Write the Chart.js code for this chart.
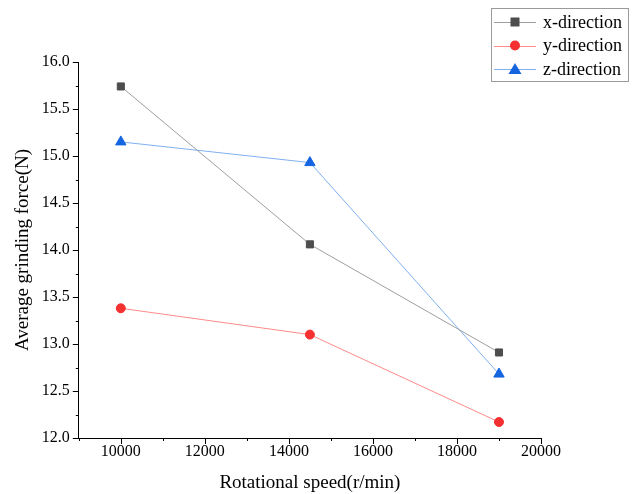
<!DOCTYPE html>
<html>
<head>
<meta charset="utf-8">
<script src="https://cdn.jsdelivr.net/npm/chart.js@4"></script>
<style>
  body { margin: 0; background: #fff; }
  #wrap { width: 638px; height: 494px; }
</style>
</head>
<body>
<div id="wrap"><canvas id="force"></canvas></div>
<script>
const speeds = [10000, 14500, 19000];
const xForce = [15.74, 14.06, 12.91];
const yForce = [13.38, 13.10, 12.17];
const zForce = [15.15, 14.93, 12.68];
const seriesNames = ["x-direction", "y-direction", "z-direction"];
const xTicks = [10000, 12000, 14000, 16000, 18000, 20000];
const yTicks = [12.0, 12.5, 13.0, 13.5, 14.0, 14.5, 15.0, 15.5, 16.0];

const FONT = "'Liberation Serif', 'Times New Roman', serif";

const toPoints = (vals) => speeds.map((s, i) => ({ x: s, y: vals[i] }));

// tick marks: long on labelled values, short in between
const tickMarks = {
  id: "tickMarks",
  afterDraw(chart) {
    const ctx = chart.ctx;
    const xs = chart.scales.x, ys = chart.scales.y;
    ctx.save();
    ctx.strokeStyle = "#000";
    ctx.lineWidth = 1;
    for (let v = 9000; v <= 20000; v += 1000) {
      const px = Math.round(xs.getPixelForValue(v)) + 0.5;
      const len = v % 2000 === 0 ? 6 : 3;
      ctx.beginPath();
      ctx.moveTo(px, ys.bottom);
      ctx.lineTo(px, ys.bottom + len);
      ctx.stroke();
    }
    for (let v = 12; v <= 16.001; v += 0.25) {
      const py = Math.round(ys.getPixelForValue(v)) + 0.5;
      const len = Math.abs(v * 2 - Math.round(v * 2)) < 0.01 ? 6 : 3;
      ctx.beginPath();
      ctx.moveTo(xs.left, py);
      ctx.lineTo(xs.left - len, py);
      ctx.stroke();
    }
    ctx.restore();
  },
};

// boxed legend in the top-right corner
const boxLegend = {
  id: "boxLegend",
  afterDraw(chart) {
    const ctx = chart.ctx;
    const ds = chart.data.datasets;
    const x0 = 491, y0 = 8, w = 137, h = 73;
    ctx.save();
    ctx.fillStyle = "#fff";
    ctx.fillRect(x0, y0, w, h);
    ctx.strokeStyle = "#9a9a9a";
    ctx.lineWidth = 1;
    ctx.strokeRect(x0 + 0.5, y0 + 0.5, w, h);
    ctx.font = "18px " + FONT;
    ctx.textBaseline = "middle";
    ds.forEach((d, i) => {
      const cy = y0 + 14 + i * 23.5;
      ctx.strokeStyle = d.borderColor;
      ctx.beginPath();
      ctx.moveTo(x0 + 3, Math.round(cy) + 0.5);
      ctx.lineTo(x0 + 45, Math.round(cy) + 0.5);
      ctx.stroke();
      ctx.fillStyle = d.pointBackgroundColor;
      const mx = x0 + 24;
      ctx.beginPath();
      if (d.pointStyle === "rect") {
        ctx.rect(mx - 4.5, cy - 4.5, 9, 9);
      } else if (d.pointStyle === "circle") {
        ctx.arc(mx, cy, 5, 0, Math.PI * 2);
      } else {
        ctx.moveTo(mx, cy - 6);
        ctx.lineTo(mx + 6.5, cy + 5);
        ctx.lineTo(mx - 6.5, cy + 5);
        ctx.closePath();
      }
      ctx.fill();
      ctx.fillStyle = "#000";
      ctx.fillText(d.label, x0 + 52, cy + 1);
    });
    ctx.restore();
  },
};

new Chart(document.getElementById("force"), {
  type: "line",
  data: {
    datasets: [
      {
        label: seriesNames[0],
        data: toPoints(xForce),
        borderColor: "#9e9e9e",
        pointBackgroundColor: "#4d4d4d",
        pointBorderColor: "#4d4d4d",
        pointStyle: "rect",
        pointRadius: 5,
        borderWidth: 1,
      },
      {
        label: seriesNames[1],
        data: toPoints(yForce),
        borderColor: "#ff8a8a",
        pointBackgroundColor: "#f53030",
        pointBorderColor: "#f53030",
        pointStyle: "circle",
        pointRadius: 4.5,
        borderWidth: 1,
      },
      {
        label: seriesNames[2],
        data: toPoints(zForce),
        borderColor: "#7fb0f0",
        pointBackgroundColor: "#1565e0",
        pointBorderColor: "#1565e0",
        pointStyle: "triangle",
        pointRadius: 6,
        borderWidth: 1,
      },
    ],
  },
  plugins: [tickMarks, boxLegend],
  options: {
    responsive: true,
    maintainAspectRatio: false,
    animation: false,
    layout: {
      padding: { top: 62, right: 97, bottom: 0, left: 0 },
    },
    plugins: {
      legend: { display: false },
      tooltip: { enabled: false },
    },
    scales: {
      x: {
        type: "linear",
        min: 9000,
        max: 20000,
        border: { color: "#000", width: 1 },
        grid: { display: false, drawTicks: false },
        afterBuildTicks: (axis) => {
          axis.ticks = xTicks.map((v) => ({ value: v }));
        },
        ticks: {
          color: "#000",
          font: { family: FONT, size: 16 },
          padding: 4,
          maxRotation: 0,
          autoSkip: false,
          callback: (v) => String(v),
        },
        title: {
          display: true,
          text: "Rotational speed(r/min)",
          color: "#000",
          font: { family: FONT, size: 19 },
          padding: { top: 6, bottom: 0 },
        },
      },
      y: {
        min: 12,
        max: 16,
        border: { color: "#000", width: 1 },
        grid: { display: false, drawTicks: false },
        afterBuildTicks: (axis) => {
          axis.ticks = yTicks.map((v) => ({ value: v }));
        },
        ticks: {
          color: "#000",
          font: { family: FONT, size: 16 },
          padding: 9,
          autoSkip: false,
          callback: (v) => v.toFixed(1),
        },
        title: {
          display: true,
          text: "Average grinding force(N)",
          color: "#000",
          font: { family: FONT, size: 19 },
          padding: { top: 12, bottom: -2 },
        },
      },
    },
  },
});
</script>
</body>
</html>
